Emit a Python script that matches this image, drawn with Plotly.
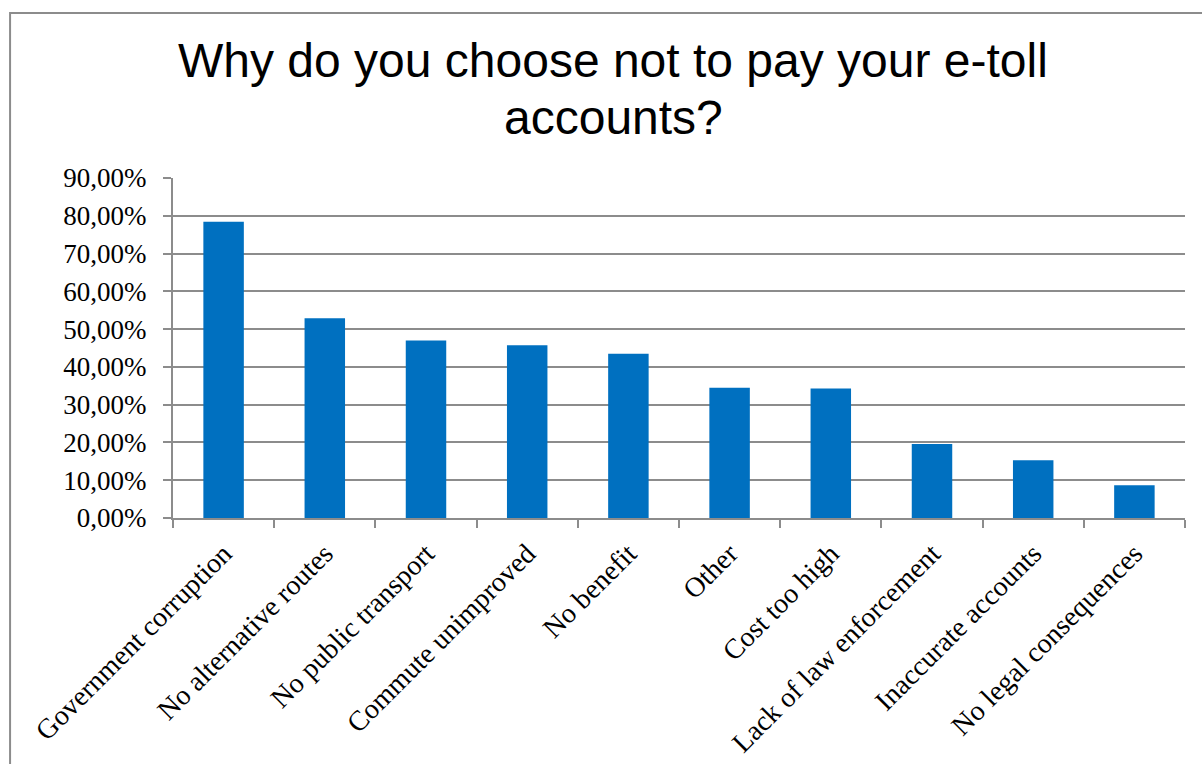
import plotly.graph_objects as go

# Survey responses: reasons for not paying e-toll accounts
categories = [
    "Government corruption",
    "No alternative routes",
    "No public transport",
    "Commute unimproved",
    "No benefit",
    "Other",
    "Cost too high",
    "Lack of law enforcement",
    "Inaccurate accounts",
    "No legal consequences",
]
shares = [0.784, 0.529, 0.470, 0.457, 0.435, 0.345, 0.343, 0.196, 0.153, 0.087]

title_line1 = "Why do you choose not to pay your e-toll"
title_line2 = "accounts?"

GRID = "#8c8c8c"
BAR = "#0070C0"
SERIF = "Liberation Serif, Times New Roman, serif"
SANS = "Liberation Sans, Arial, sans-serif"

fig = go.Figure(
    go.Bar(
        x=categories,
        y=shares,
        marker=dict(color=BAR, line=dict(width=0)),
    )
)

fig.update_layout(
    width=1202,
    height=764,
    margin=dict(l=173, r=17, t=178, b=246),
    paper_bgcolor="white",
    plot_bgcolor="white",
    bargap=0.6,
    separators=", ",
    showlegend=False,
    font=dict(family=SERIF, color="black"),
)

fig.update_yaxes(
    range=[0, 0.9],
    dtick=0.1,
    tick0=0,
    tickformat=".2%",
    showgrid=True,
    gridcolor=GRID,
    gridwidth=2,
    showline=True,
    linecolor=GRID,
    linewidth=2,
    ticks="outside",
    ticklen=8,
    tickwidth=2,
    tickcolor=GRID,
    ticklabelstandoff=11,
    tickfont=dict(family=SERIF, size=27, color="black"),
    zeroline=False,
    automargin=False,
)

fig.update_xaxes(
    showline=True,
    linecolor=GRID,
    linewidth=2,
    ticks="outside",
    tickson="boundaries",
    ticklen=8,
    tickwidth=2,
    tickcolor=GRID,
    tickangle=-45,
    ticklabelstandoff=6,
    tickfont=dict(family=SERIF, size=28, color="black"),
    automargin=False,
)

# Two-line chart title
fig.add_annotation(
    text=title_line1, xref="paper", yref="paper", x=0.4348, y=1.347,
    xanchor="center", yanchor="middle", showarrow=False,
    font=dict(family=SANS, size=48, color="black"),
)
fig.add_annotation(
    text=title_line2, xref="paper", yref="paper", x=0.4348, y=1.179,
    xanchor="center", yanchor="middle", showarrow=False,
    font=dict(family=SANS, size=48, color="black"),
)

# Chart area frame
fig.add_shape(
    type="rect", xref="paper", yref="paper",
    x0=-0.161, x1=1.2, y0=-1.0, y1=1.485,
    line=dict(color="#8c8c8c", width=2), fillcolor="rgba(0,0,0,0)",
    layer="below",
)

fig.write_html("out.html")
